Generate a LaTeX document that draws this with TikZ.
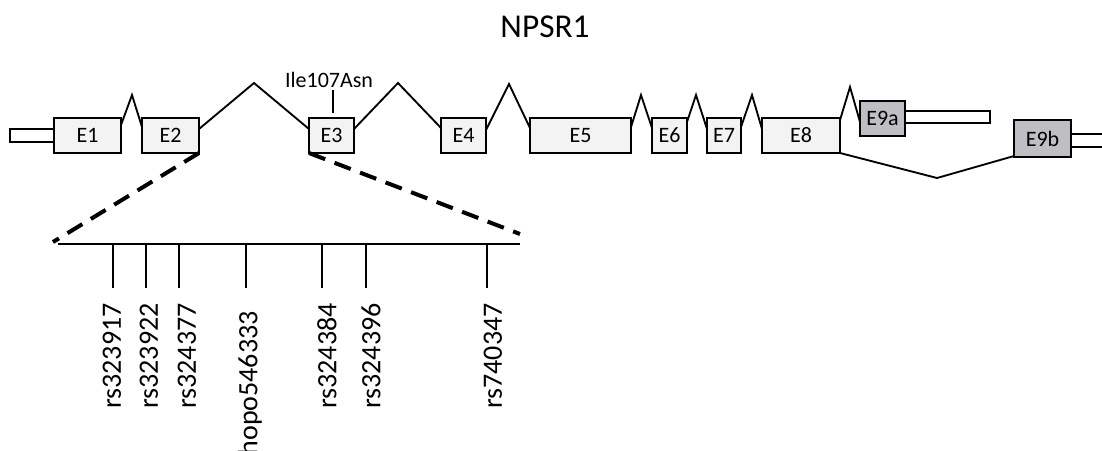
\documentclass[tikz,border=0pt]{standalone}
\usepackage{fontspec}
\setmainfont{Carlito}
\definecolor{exonfill}{HTML}{F3F3F3}
\definecolor{altfill}{HTML}{BEBEC3}
% exon box: name, x1, y1, x2, y2, label, extra style
\newcommand\exonbox[7]{%
  \node[exon,#7,minimum width={(#4-#2)*0.75pt},minimum height={(#5-#3)*0.75pt}]
    (#1) at ({(#2+#4)/2},{(#3+#5)/2}) {#6};}
\begin{document}
\begin{tikzpicture}[x=0.75pt,y=-0.75pt,
  exon/.style={draw,line width=1.4pt,fill=exonfill,inner sep=0pt,outer sep=0pt,
    font=\fontsize{16.5}{16.5}\selectfont},
  alt/.style={fill=altfill},
  utr/.style={draw,line width=1.4pt,fill=white,inner sep=0pt,outer sep=0pt},
  intron/.style={line width=1.4pt,line join=miter},
  zoomline/.style={line width=3pt,dash pattern=on 13pt off 7.5pt},
  snp/.style={rotate=90,anchor=east,inner sep=0pt,font=\fontsize{21}{21}\selectfont}]
\useasboundingbox (0,0) rectangle (1102,450);

% title
\node[font=\fontsize{25}{25}\selectfont] (title) at (545,27) {NPSR1};

% untranslated ends
\exonbox{utr5}{10}{129}{56}{142}{}{utr}
\exonbox{utr9a}{903}{111}{990}{123}{}{utr}
\exonbox{utr9b}{1069}{134}{1115}{147}{}{utr}

% exons
\exonbox{E1}{54}{118}{121}{153}{E1}{}
\exonbox{E2}{142}{118}{199}{153}{E2}{}
\exonbox{E3}{309}{118}{354}{153}{E3}{}
\exonbox{E4}{441}{118}{486}{153}{E4}{}
\exonbox{E5}{530}{118}{631}{153}{E5}{}
\exonbox{E6}{652}{118}{687}{153}{E6}{}
\exonbox{E7}{707}{118}{741}{153}{E7}{}
\exonbox{E8}{762}{118}{840}{153}{E8}{}
\exonbox{E9a}{860}{101}{905}{136}{E9a}{alt}
\exonbox{E9b}{1014}{120}{1071}{157}{E9b}{alt}

% intron peaks
\coordinate (p12) at (132,95);
\coordinate (p23) at (254,83);
\coordinate (p34) at (398,83);
\coordinate (p45) at (509,84);
\coordinate (p56) at (641,95);
\coordinate (p67) at (696,95);
\coordinate (p78) at (752,95);
\coordinate (p89a) at (850,87);
\coordinate (p89b) at (937,178);

\draw[intron] ([yshift=-5.25pt]E1.north east) -- (p12) -- ([yshift=-6.75pt]E2.north west);
\draw[intron] ([yshift=-8.25pt]E2.north east) -- (p23) -- ([yshift=-8.25pt]E3.north west);
\draw[intron] ([yshift=-8.25pt]E3.north east) -- (p34) -- ([yshift=-7.5pt]E4.north west);
\draw[intron] ([yshift=-9pt]E4.north east) -- (p45) -- ([yshift=-7.5pt]E5.north west);
\draw[intron] ([yshift=-6.75pt]E5.north east) -- (p56) -- ([yshift=-7.5pt]E6.north west);
\draw[intron] ([yshift=-3pt]E6.north east) -- (p67) -- ([yshift=-8.25pt]E7.north west);
\draw[intron] ([yshift=-6.75pt]E7.north east) -- (p78) -- ([yshift=-8.25pt]E8.north west);
\draw[intron] ([yshift=-1.5pt]E8.north east) -- (p89a) -- ([yshift=-2.6pt]E9a.west);
\draw[intron] (E8.south east) -- (p89b) -- ([yshift=0.75pt]E9b.south west);

% coding variant in exon 3
\node[font=\fontsize{16.5}{16.5}\selectfont,inner sep=0pt] (ile) at (329,80) {Ile107Asn};
\draw[line width=1.4pt] ([xshift=1.2pt,yshift=3.75pt]E3.north) -- ([xshift=1.2pt,yshift=21pt]E3.north);

% enlarged intron 2
\coordinate (zl) at (53,242);
\coordinate (zr) at (520,234);
\draw[zoomline] (E2.south east) -- (zl);
\draw[zoomline] (E3.south west) -- (zr);
\coordinate (bl) at (58,244);
\coordinate (br) at (520,244);
\draw[line width=1.4pt] (bl) -- (br);

% SNP ticks and names
\foreach \nm/\tx/\lx/\ly/\txt in {
  s1/113/112/303/rs323917,
  s2/146/149/303/rs323922,
  s3/179/187/303/rs324377,
  s4/246/250/311/hopo546333,
  s5/322/327/303/rs324384,
  s6/366/371/303/rs324396,
  s7/487/493/303/rs740347}{
  \coordinate (t\nm) at (\tx,244);
  \draw[line width=1.4pt] (t\nm) -- ++(0,44);
  \node[snp] (\nm) at (\lx,\ly) {\txt};
}
\end{tikzpicture}
\end{document}
